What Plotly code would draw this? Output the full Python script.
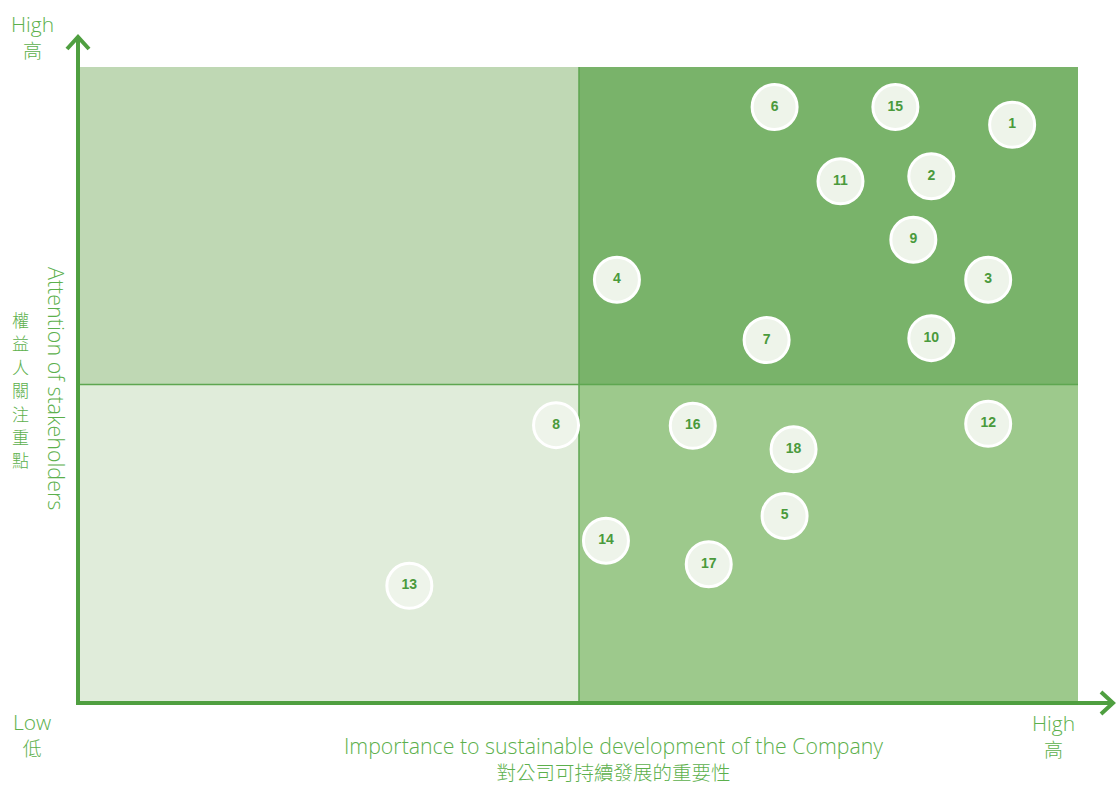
import plotly.graph_objects as go

# Data
issues = ["1", "2", "3", "4", "5", "6", "7", "8", "9", "10", "11", "12", "13", "14", "15", "16", "17", "18"]
importance = [9.34, 8.53, 9.10, 5.38, 7.06, 6.96, 6.88, 4.77, 8.35, 8.53, 7.62, 9.10, 3.30, 5.27, 8.17, 6.14, 6.30, 7.15]
attention = [9.09, 8.28, 6.65, 6.65, 2.93, 9.37, 5.70, 4.36, 7.28, 5.73, 8.20, 4.38, 1.83, 2.54, 9.37, 4.35, 2.17, 3.98]

x_title = "Importance to sustainable development of the Company"
x_title_zh = "對公司可持續發展的重要性"
y_title = "Attention of stakeholders"
y_title_zh = "權益人關注重點"

W, H = 1116, 786
L, R, T, B = 80, 38, 67, 84
pw, ph = W - L - R, H - T - B

def px(x):
    return (x - L) / pw

def py(y):
    return (H - B - y) / ph

TXT = "#5cb04c"
AX = "#4f9f40"
FONT = "Open Sans, Lato, Liberation Sans, Arial, sans-serif"
CJK = "Noto Sans CJK TC, sans-serif"

fig = go.Figure()

shapes = []
quads = [
    (0, 5, 5, 10, "#bfd8b4"),
    (5, 10, 5, 10, "#79b36a"),
    (0, 5, 0, 5, "#e0ecda"),
    (5, 10, 0, 5, "#9dc98c"),
]
for x0, x1, y0, y1, c in quads:
    shapes.append(dict(type="rect", xref="x", yref="y", x0=x0, x1=x1, y0=y0, y1=y1,
                       fillcolor=c, line=dict(width=0), layer="below"))
shapes.append(dict(type="line", xref="x", yref="y", x0=5, x1=5, y0=0, y1=10,
                   line=dict(color="#5ea650", width=1.5), layer="below"))
shapes.append(dict(type="line", xref="x", yref="y", x0=0, x1=10, y0=5, y1=5,
                   line=dict(color="#5ea650", width=1.5), layer="below"))
# axes with arrows
shapes.append(dict(type="line", xref="paper", yref="paper", x0=px(78), x1=px(78), y0=py(704), y1=py(38),
                   line=dict(color=AX, width=4)))
shapes.append(dict(type="line", xref="paper", yref="paper", x0=px(76), x1=px(1113), y0=py(703), y1=py(703),
                   line=dict(color=AX, width=4)))
shapes.append(dict(type="path", xref="paper", yref="paper",
                   path=f"M {px(67)} {py(49)} L {px(78)} {py(37)} L {px(89)} {py(49)}",
                   line=dict(color=AX, width=4)))
shapes.append(dict(type="path", xref="paper", yref="paper",
                   path=f"M {px(1101)} {py(692)} L {px(1113)} {py(703)} L {px(1101)} {py(714)}",
                   line=dict(color=AX, width=4)))

fig.add_trace(go.Scatter(
    x=importance, y=attention, mode="markers+text", text=issues,
    textposition="middle center",
    marker=dict(size=45, color="#eef4ea", line=dict(color="white", width=3)),
    textfont=dict(family="Liberation Sans, Arial, sans-serif", size=14, color="#4a9a3c", weight="bold"),
    hoverinfo="skip", cliponaxis=False,
))

ann = []
def label(x, y, text, size, font=FONT, angle=0):
    ann.append(dict(xref="paper", yref="paper", x=px(x), y=py(y), text=text, showarrow=False,
                    font=dict(family=font, size=size, color=TXT, weight=300), textangle=angle,
                    xanchor="center", yanchor="middle"))

def two_line(en, zh, en_size, zh_size):
    return (f"<span style='font-size:{en_size}px'>{en}</span><br>"
            f"<span style='font-size:{zh_size}px;font-family:Noto Sans CJK TC'>{zh}</span>")

label(32, 36, two_line("High", "高", 21, 19), 20)
label(32, 734, two_line("Low", "低", 21, 19), 20)
label(1053, 735, two_line("High", "高", 21, 19), 20)
label(613, 758, two_line(x_title, x_title_zh, 21.3, 19.5), 20)
label(57, 388, y_title, 21.5, angle=90)
label(20, 389, "<br>".join(f"<span style='font-size:17px'>{c}</span>" for c in y_title_zh), 18, CJK)

fig.update_layout(
    width=W, height=H, margin=dict(l=L, r=R, t=T, b=B),
    paper_bgcolor="white", plot_bgcolor="white",
    shapes=shapes, annotations=ann, showlegend=False,
    xaxis=dict(range=[0, 10], visible=False, fixedrange=True),
    yaxis=dict(range=[0, 10], visible=False, fixedrange=True),
)

fig.write_html("out.html", config={"displayModeBar": False},
               post_script="document.body.style.margin='0';document.body.style.padding='0';")
